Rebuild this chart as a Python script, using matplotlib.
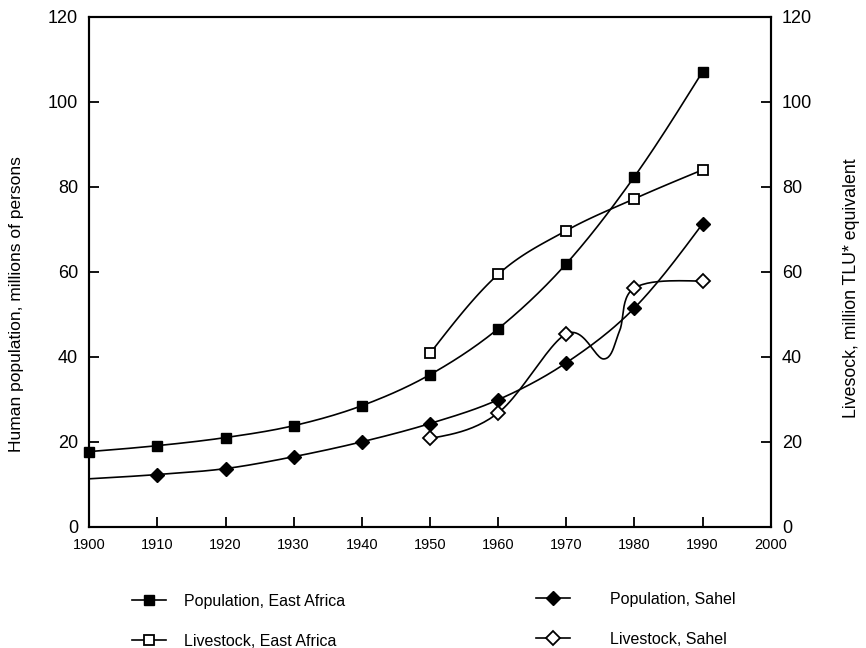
"""
Human population and livestock, East Africa and Sahel, 1900-1990
"""

import numpy as np
import matplotlib
matplotlib.use('Agg')
import matplotlib.pyplot as plt
from matplotlib.lines import Line2D

plt.rcParams['font.family'] = ['Liberation Sans', 'DejaVu Sans']

#------------------------------------------------------------------------------
# data

pop_years = [1900, 1910, 1920, 1930, 1940, 1950, 1960, 1970, 1980, 1990]
pop_east_africa = [17.7, 19.1, 21.0, 23.8, 28.5, 35.8, 46.6, 61.9, 82.4, 107.1]
pop_sahel = [11.3, 12.3, 13.7, 16.5, 20.0, 24.3, 29.9, 38.6, 51.5, 71.3]

stock_years = [1950, 1960, 1970, 1980, 1990]
stock_east_africa = [40.8, 59.4, 69.7, 77.2, 84.0]
stock_sahel = [20.8, 26.8, 45.4, 56.2, 57.8]

# the Sahel livestock curve dips between the 1970 and 1980 points
stock_sahel_curve_years = [1950, 1960, 1970, 1975.5, 1977.8, 1980, 1990]
stock_sahel_curve = [20.8, 26.8, 45.4, 39.5, 46.0, 56.2, 57.8]

xticks = list(range(1900, 2001, 10))
yticks = list(range(0, 121, 20))

#------------------------------------------------------------------------------

def smooth(xs, ys, n=24):
    # cardinal (catmull-rom) spline, natural ends
    p = np.column_stack([xs, ys]).astype(float)
    m = np.zeros_like(p)
    m[1:-1] = 0.5*(p[2:] - p[:-2])
    m[0] = 0.5*(3*(p[1] - p[0]) - m[1])
    m[-1] = 0.5*(3*(p[-1] - p[-2]) - m[-2])
    t = np.linspace(0, 1, n, endpoint=False)[:, None]
    h00 = 2*t**3 - 3*t**2 + 1
    h10 = t**3 - 2*t**2 + t
    h01 = -2*t**3 + 3*t**2
    h11 = t**3 - t**2
    out = []
    for i in range(len(p) - 1):
        out.append(h00*p[i] + h10*m[i] + h01*p[i+1] + h11*m[i+1])
    out.append(p[-1:])
    c = np.vstack(out)
    return c[:, 0], c[:, 1]

#------------------------------------------------------------------------------

fig = plt.figure(figsize=[8.66, 6.48], dpi=100)
ax = fig.add_axes([0.103, 0.187, 0.787, 0.787])

lw = 1.2
mk = dict(color='k', linestyle='none', clip_on=False, zorder=4)

cx, cy = smooth(pop_years, pop_east_africa)
ax.plot(cx, cy, color='k', lw=lw)
ax.plot(pop_years, pop_east_africa, marker='s', ms=7.5, mfc='k', mec='k', **mk)

cx, cy = smooth(pop_years, pop_sahel)
ax.plot(cx, cy, color='k', lw=lw)
ax.plot(pop_years[1:], pop_sahel[1:], marker='D', ms=7.5, mfc='k', mec='k', **mk)

cx, cy = smooth(stock_years, stock_east_africa)
ax.plot(cx, cy, color='k', lw=lw)
ax.plot(stock_years, stock_east_africa, marker='s', ms=7.5, mfc='white',
        mec='k', mew=1.3, **mk)

cx, cy = smooth(stock_sahel_curve_years, stock_sahel_curve)
ax.plot(cx, cy, color='k', lw=lw)
ax.plot(stock_years, stock_sahel, marker='D', ms=7.5, mfc='white',
        mec='k', mew=1.3, **mk)

ax.set_xlim(1900, 2000)
ax.set_ylim(0, 120)
ax.set_xticks(xticks)
ax.set_yticks(yticks)

for s in ax.spines.values():
    s.set_linewidth(1.5)

ax.tick_params(axis='x', direction='in', length=7, width=1.3, labelsize=10.5, pad=8)
ax.tick_params(axis='y', direction='in', length=7, width=1.3, labelsize=13, pad=8)

ax2 = ax.twinx()
ax2.set_ylim(0, 120)
ax2.set_yticks(yticks)
ax2.tick_params(axis='y', direction='in', length=7, width=1.3, labelsize=13, pad=8)
for s in ax2.spines.values():
    s.set_linewidth(1.5)

ax.set_ylabel('Human population, millions of persons', fontsize=12.5)
ax.yaxis.set_label_coords(-0.095, 0.436)
ax2.set_ylabel('Livesock, million TLU* equivalent', fontsize=12.8)
ax2.yaxis.set_label_coords(1.106, 0.468)

#------------------------------------------------------------------------------
# legend, two columns

h_pea = Line2D([], [], color='k', lw=lw, marker='s', ms=7, mfc='k', mec='k')
h_lea = Line2D([], [], color='k', lw=lw, marker='s', ms=7, mfc='white', mec='k', mew=1.3)
h_psa = Line2D([], [], color='k', lw=lw, marker='D', ms=7, mfc='k', mec='k')
h_lsa = Line2D([], [], color='k', lw=lw, marker='D', ms=7, mfc='white', mec='k', mew=1.3)

leg_kw = dict(loc='upper left', frameon=False, fontsize=11.5, borderpad=0,
              borderaxespad=0, handlelength=2.1, labelspacing=1.58)

fig.legend([h_pea, h_lea], ['Population, East Africa', 'Livestock, East Africa'],
           bbox_to_anchor=(0.153, 0.084), handletextpad=1.1, **leg_kw)
fig.legend([h_psa, h_lsa], ['Population, Sahel', 'Livestock, Sahel'],
           bbox_to_anchor=(0.619, 0.087), handletextpad=2.55, **leg_kw)

fig.savefig('out.png', dpi=100)
